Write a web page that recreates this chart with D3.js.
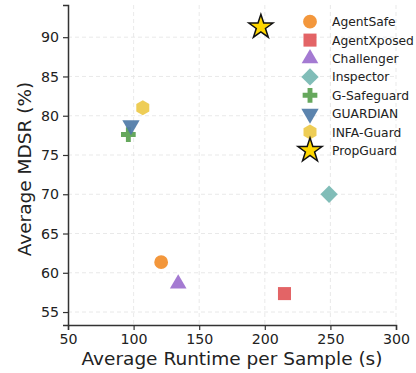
<!DOCTYPE html>
<html>
<head>
<meta charset="utf-8">
<script src="https://cdn.jsdelivr.net/npm/d3@7"></script>
<style>
  body { margin: 0; background: #fff; }
  text { font-family: "DejaVu Sans", sans-serif; fill: #222; }
</style>
</head>
<body>
<div id="my_dataviz"></div>
<script>
// data
var methods = ["AgentSafe", "AgentXposed", "Challenger", "Inspector", "G-Safeguard", "GUARDIAN", "INFA-Guard", "PropGuard"];
var runtimes = [121, 215, 134, 249, 96, 98, 107, 197];
var mdsr = [61.35, 57.35, 58.6, 70.0, 77.6, 78.8, 81.0, 91.3];
var xTicks = [50, 100, 150, 200, 250, 300];
var yTicks = [55, 60, 65, 70, 75, 80, 85, 90];

var colors = ["#f28e2b", "#e15759", "#9c6fce", "#76b7b2", "#59a14f", "#4e79a7", "#edc948", "#ffd700"];
var shapes = ["circle", "square", "triangle", "diamond", "plus", "tridown", "hexagon", "star"];

// set the dimensions and margins of the graph
var margin = {top: 5, right: 20, bottom: 48, left: 68},
    width = 416 - margin.left - margin.right,
    height = 373 - margin.top - margin.bottom;

var svg = d3.select("#my_dataviz")
  .append("svg")
    .attr("width", 416)
    .attr("height", 373)
  .append("g")
    .attr("transform", "translate(" + margin.left + "," + margin.top + ")");

var x = d3.scaleLinear().domain([50, 300]).range([0, width]);
var y = d3.scaleLinear().domain([53.35, 94.1]).range([height, 0]);

// grid
svg.append("g").selectAll("line").data(xTicks.slice(1))
  .enter().append("line")
    .attr("x1", function(d) { return x(d); })
    .attr("x2", function(d) { return x(d); })
    .attr("y1", 0).attr("y2", height)
    .attr("stroke", "#e3e3e3").attr("stroke-dasharray", "4,3").attr("stroke-width", 0.8);
svg.append("g").selectAll("line").data(yTicks)
  .enter().append("line")
    .attr("x1", 0).attr("x2", width)
    .attr("y1", function(d) { return y(d); })
    .attr("y2", function(d) { return y(d); })
    .attr("stroke", "#e3e3e3").attr("stroke-dasharray", "4,3").attr("stroke-width", 0.8);

// axes
var xAxis = svg.append("g")
  .attr("transform", "translate(0," + height + ")")
  .call(d3.axisBottom(x).tickValues(xTicks).tickSize(5).tickPadding(4));
var yAxis = svg.append("g")
  .call(d3.axisLeft(y).tickValues(yTicks).tickSize(5).tickPadding(4));

[xAxis, yAxis].forEach(function(a) {
  a.select(".domain").attr("stroke", "#333").attr("stroke-width", 1.5);
  a.selectAll(".tick line").attr("stroke", "#333").attr("stroke-width", 1.2);
  a.selectAll("text").style("font-size", "14.2px").style("font-family", "DejaVu Sans").attr("fill", "#222");
});

svg.append("text")
  .attr("x", width / 2).attr("y", height + 40)
  .attr("text-anchor", "middle")
  .style("font-size", "18.5px")
  .text("Average Runtime per Sample (s)");

svg.append("text")
  .attr("transform", "rotate(-90)")
  .attr("x", -(y(53.35) + y(94.1)) / 2 - 4).attr("y", -37)
  .attr("text-anchor", "middle")
  .style("font-size", "18.5px")
  .text("Average MDSR (%)");

// marker path builder
function markerPath(shape) {
  if (shape == "circle") return d3.symbol(d3.symbolCircle, 150)();
  if (shape == "square") return d3.symbol(d3.symbolSquare, 170)();
  if (shape == "triangle") return d3.symbol(d3.symbolTriangle, 120)();
  if (shape == "tridown") return d3.symbol(d3.symbolTriangle, 130)();
  if (shape == "plus") return d3.symbol(d3.symbolCross, 120)();
  if (shape == "star") return d3.symbol(d3.symbolStar, 180)();
  if (shape == "diamond") return d3.symbol(d3.symbolSquare, 150)();
  if (shape == "hexagon") {
    var r = 7.5, p = d3.path();
    for (var i = 0; i < 6; i++) {
      var a = Math.PI / 6 + i * Math.PI / 3;
      if (i == 0) p.moveTo(r * Math.cos(a), r * Math.sin(a));
      else p.lineTo(r * Math.cos(a), r * Math.sin(a));
    }
    p.closePath();
    return p.toString();
  }
}
function markerRotate(shape) {
  if (shape == "tridown") return " rotate(180)";
  if (shape == "diamond") return " rotate(45)";
  return "";
}
function drawMarker(g, i) {
  g.append("path")
    .attr("d", markerPath(shapes[i]))
    .attr("fill", colors[i])
    .attr("fill-opacity", shapes[i] == "star" ? 1 : 0.92)
    .attr("stroke", shapes[i] == "star" ? "#111" : "none")
    .attr("stroke-width", 1.5)
    .attr("stroke-linejoin", "miter");
}

// points
methods.forEach(function(m, i) {
  var g = svg.append("g")
    .attr("transform", "translate(" + x(runtimes[i]) + "," + y(mdsr[i]) + ")" + markerRotate(shapes[i]));
  drawMarker(g, i);
});

// legend
var legend = svg.append("g").attr("transform", "translate(" + (310 - margin.left) + "," + (21.7 - margin.top) + ")");
methods.forEach(function(m, i) {
  var row = legend.append("g").attr("transform", "translate(0," + (i * 18.4) + ")");
  var mk = row.append("g").attr("transform", markerRotate(shapes[i]));
  drawMarker(mk, i);
  row.append("text")
    .attr("x", 22).attr("y", 4.5)
    .style("font-size", "12.3px")
    .text(m);
});
</script>
</body>
</html>
